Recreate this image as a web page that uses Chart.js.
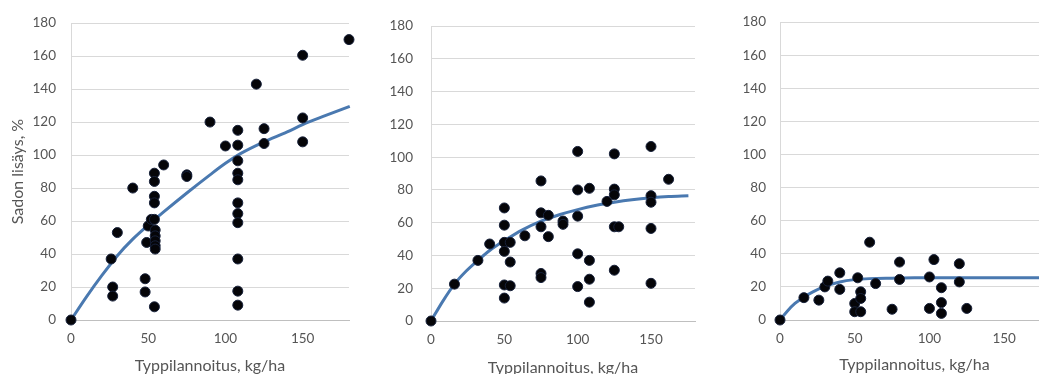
<!DOCTYPE html>
<html>
<head>
<meta charset="utf-8">
<script src="https://cdn.jsdelivr.net/npm/chart.js@4/dist/chart.umd.min.js"></script>
<style>
  html, body { margin: 0; padding: 0; background: #fff; overflow: hidden; }
  body { width: 1039px; height: 374px; position: relative; }
  canvas { position: absolute; top: 0; }
</style>
</head>
<body>
<canvas id="c1" style="left:0px"></canvas>
<canvas id="c2" style="left:360px"></canvas>
<canvas id="c3" style="left:700px"></canvas>
<script>
'use strict';

// kenttäkoe 1: typpilannoitus (kg/ha) ja sadon lisäys (%)
const N1 = [0, 26, 27, 27, 30, 40, 48, 48, 49, 50, 52, 54, 54, 54, 54, 54, 54.5, 54.5, 54.5, 54.5, 54.5, 54, 60, 75, 75,
            90, 100, 108, 108, 108, 108, 108, 108, 108, 108, 108, 108, 108, 120, 125, 125, 150, 150, 150, 180]
const LISAYS1 = [0, 37, 20, 14.5, 53, 80, 25, 17, 47, 57, 61, 89, 84, 75, 71, 61, 54.5, 51, 48, 45, 43, 8, 94, 88, 87,
                 120, 105.5, 115, 106, 96.5, 89, 85, 71, 64.5, 59, 37, 17.5, 9, 143, 116, 107, 160.5, 122.5, 108, 170]
const KAYRA1_X = [0, 10, 20, 30, 40, 50, 60, 75, 90, 100, 110, 125, 140, 150, 165, 180.5]
const KAYRA1_Y = [0, 14, 27, 39, 49, 57.5, 65.5, 77, 88, 95, 101, 108, 114, 118.5, 124, 129.5]

// kenttäkoe 2
const N2 = [0, 16, 32, 40, 50, 50, 50, 50, 50, 50, 54, 54, 54, 64, 75, 75, 75, 75, 75, 80, 80, 90, 90,
            100, 100, 100, 100, 100, 108, 108, 108, 108, 120, 125, 125, 125, 125, 128, 125,
            150, 150, 150, 150, 150, 162]
const LISAYS2 = [0, 22.5, 37, 47, 69, 58.5, 48, 42.5, 22, 14, 48, 36, 21.5, 52, 85.5, 66, 57.5, 29, 26.5, 64.5, 51.5, 61, 59,
                 103.5, 80, 64, 41, 21, 81, 37, 25.5, 11.5, 73, 102, 80.5, 77, 57.5, 57.5, 31,
                 106.5, 76.5, 72.5, 56.5, 23, 86.5]
const KAYRA2_X = [0, 8, 16, 24, 32, 40, 50, 62, 75, 88, 100, 112, 125, 137, 150, 162, 175.5]
const KAYRA2_Y = [0, 12, 22.5, 30.5, 37, 43, 49, 55.5, 61, 65, 68, 70.5, 72.5, 74, 75.2, 76, 76.5]

// kenttäkoe 3
const N3 = [0, 16, 26, 30, 32, 40, 40, 50, 50, 52, 54, 54, 54, 60, 64, 75, 80, 80,
            100, 100, 103, 108, 108, 108, 120, 120, 125]
const LISAYS3 = [0, 13.5, 12, 20, 23.5, 28.5, 18.5, 10, 5, 25.5, 17, 13, 5, 47, 22, 6.5, 35, 24.5,
                 26, 7, 36.5, 19.5, 10.5, 4, 34, 23, 7]
const KAYRA3_X = [0, 5, 10, 16, 22, 30, 40, 50, 60, 75, 90, 110, 140, 180]
const KAYRA3_Y = [0, 5.5, 10, 13.8, 17, 20.3, 23, 24.4, 25, 25.3, 25.5, 25.5, 25.5, 25.5]

const TEKSTI = '#555555'
const RUUDUKKO = '#d9d9d9'
const KAYRA = '#4a79b0'

function pisteet(xs, ys) {
  return xs.map(function (x, i) { return { x: x, y: ys[i] } })
}

// piirtoalueen paikka kiinnitetään akselien leveydellä/korkeudella
function piirra(id, leveys, n, lisays, kx, ky, asetukset) {
  const canvas = document.getElementById(id)
  canvas.width = leveys
  canvas.height = 374
  canvas.style.width = leveys + 'px'
  canvas.style.height = '374px'

  return new Chart(canvas.getContext('2d'), {
    data: {
      datasets: [
        {
          type: 'scatter',
          data: pisteet(n, lisays),
          backgroundColor: '#050508',
          borderColor: '#17213a',
          borderWidth: 1,
          pointRadius: 5,
          pointHoverRadius: 5,
          clip: false
        },
        {
          type: 'line',
          data: pisteet(kx, ky),
          borderColor: KAYRA,
          borderWidth: 3,
          pointRadius: 0,
          cubicInterpolationMode: 'monotone',
          fill: false,
          clip: false
        }
      ]
    },
    options: {
      responsive: false,
      animation: false,
      events: [],
      layout: { padding: { left: 0, right: asetukset.oikea, top: asetukset.yla, bottom: 0 } },
      plugins: { legend: { display: false }, tooltip: { enabled: false } },
      scales: {
        x: {
          type: 'linear',
          min: 0,
          max: 180,
          afterFit: function (s) { s.height = asetukset.xKorkeus },
          grid: { display: false, drawTicks: false, tickLength: 0 },
          border: { display: true, color: '#bfbfbf', width: 1 },
          ticks: {
            stepSize: 50,
            includeBounds: false,
            padding: 11,
            color: TEKSTI,
            font: { family: 'Lato', size: 13.5 }
          },
          title: {
            display: true,
            text: 'Typpilannoitus, kg/ha',
            color: TEKSTI,
            font: { family: 'Lato', size: 16 },
            padding: { top: 0, bottom: asetukset.otsikkoAla }
          }
        },
        y: {
          type: 'linear',
          min: 0,
          max: 180,
          afterFit: function (s) { s.width = asetukset.yLeveys },
          grid: { color: RUUDUKKO, lineWidth: 1, drawTicks: false, tickLength: 0 },
          border: { display: true, color: RUUDUKKO, width: 1 },
          ticks: {
            stepSize: 20,
            padding: asetukset.tikkiVali,
            color: TEKSTI,
            font: { family: 'Lato', size: 13.5 }
          },
          title: {
            display: asetukset.yOtsikko,
            text: 'Sadon lisäys, %',
            color: TEKSTI,
            font: { family: 'Lato', size: 16 },
            padding: { top: 8, bottom: 0 }
          }
        }
      }
    }
  })
}

piirra('c1', 360, N1, LISAYS1, KAYRA1_X, KAYRA1_Y,
  { oikea: 11, yla: 22, xKorkeus: 54, yLeveys: 71, tikkiVali: 15, otsikkoAla: -1, yOtsikko: true })
piirra('c2', 345, N2, LISAYS2, KAYRA2_X, KAYRA2_Y,
  { oikea: 10, yla: 22, xKorkeus: 53, yLeveys: 71, tikkiVali: 18, otsikkoAla: -3, yOtsikko: false })
piirra('c3', 360, N3, LISAYS3, KAYRA3_X, KAYRA3_Y,
  { oikea: 11, yla: 18, xKorkeus: 54, yLeveys: 80, tikkiVali: 14, otsikkoAla: 0, yOtsikko: false })
</script>
</body>
</html>
